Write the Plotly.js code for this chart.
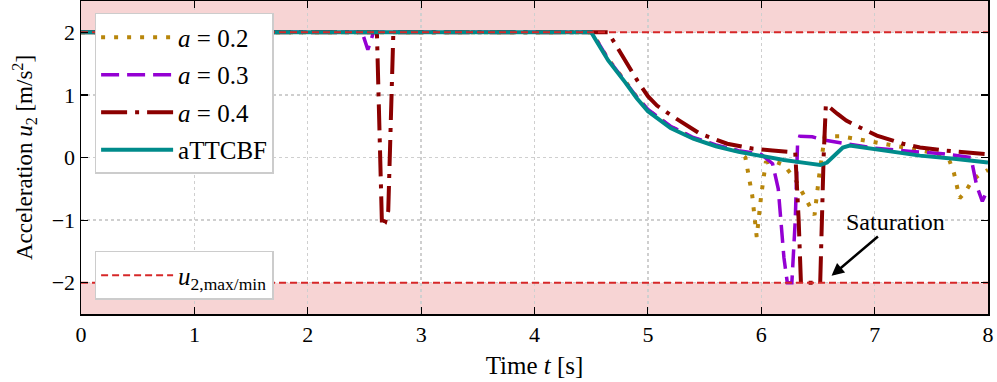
<!DOCTYPE html>
<html>
<head>
<meta charset="utf-8">
<script src="https://cdn.plot.ly/plotly-3.0.1.min.js"></script>
<style>
  html, body { margin: 0; padding: 0; background: #fff; }
  #myDiv { width: 997px; height: 382px; }
</style>
</head>
<body>
<div id="myDiv"></div>
<script>
// a = 0.2
const tA2 = [0, 4.5, 4.55, 4.65, 4.8, 4.9, 5.0, 5.1, 5.2, 5.4, 5.6, 5.8, 5.86, 5.92, 5.96, 6.0, 6.04, 6.1, 6.2, 6.3, 6.4, 6.47, 6.51, 6.56, 6.7, 6.9, 7.2, 7.5, 7.66, 7.7, 7.75, 7.8, 7.86, 7.92, 8.0];
const uA2 = [2, 2, 1.87, 1.57, 1.22, 0.97, 0.76, 0.62, 0.49, 0.31, 0.19, 0.1, 0.0, -0.6, -1.27, -0.6, -0.08, -0.05, -0.12, -0.35, -0.68, -0.92, -0.3, 0.34, 0.34, 0.27, 0.18, 0.08, -0.05, -0.25, -0.65, -0.55, -0.37, -0.28, -0.2];

// a = 0.3
const tA3 = [0, 2.48, 2.53, 2.58, 4.5, 4.55, 4.65, 4.8, 4.9, 5.0, 5.1, 5.2, 5.4, 5.6, 5.8, 6.0, 6.1, 6.15, 6.2, 6.23, 6.27, 6.3, 6.32, 6.34, 6.45, 6.55, 6.75, 7.0, 7.3, 7.6, 7.85, 7.9, 7.95, 8.0];
const uA3 = [2, 2, 1.72, 2, 2, 1.87, 1.57, 1.22, 0.97, 0.77, 0.63, 0.5, 0.32, 0.2, 0.11, 0.05, -0.1, -0.5, -1.6, -2.0, -2.0, -1.0, 0.2, 0.34, 0.33, 0.28, 0.22, 0.15, 0.1, 0.06, 0.0, -0.45, -0.7, -0.5];

// a = 0.4
const tA4 = [0, 2.61, 2.655, 2.68, 2.71, 2.755, 4.65, 4.74, 4.82, 4.91, 5.0, 5.08, 5.25, 5.46, 5.7, 5.93, 6.1, 6.3, 6.33, 6.35, 6.47, 6.52, 6.55, 6.57, 6.67, 6.75, 6.87, 7.02, 7.25, 7.4, 7.63, 7.8, 8.0];
const uA4 = [2, 2, -1.1, -1.05, -0.85, 2, 2, 1.73, 1.48, 1.22, 0.98, 0.83, 0.62, 0.38, 0.22, 0.14, 0.11, 0.08, -1.0, -2.0, -2.0, -2.0, 0.0, 0.85, 0.7, 0.59, 0.48, 0.35, 0.22, 0.16, 0.11, 0.08, 0.05];

// aTTCBF
const tTTC = [0, 4.5, 4.55, 4.65, 4.8, 4.9, 5.0, 5.1, 5.2, 5.4, 5.6, 5.8, 6.0, 6.2, 6.4, 6.52, 6.58, 6.65, 6.72, 6.78, 6.9, 7.1, 7.4, 7.7, 8.0];
const uTTC = [2, 2, 1.85, 1.55, 1.2, 0.95, 0.74, 0.6, 0.47, 0.3, 0.18, 0.09, 0.02, -0.04, -0.09, -0.12, -0.08, 0.05, 0.16, 0.19, 0.16, 0.11, 0.03, -0.02, -0.08];

// limits
const uMax = 2;
const uMin = -2;
const tStart = 0;
const tEnd = 8;

const serif = "Liberation Serif, DejaVu Serif, serif";

const traces = [
    {
        x: tA2, y: uA2, mode: "lines", name: "<i>a</i> = 0.2",
        line: { color: "#b8860b", width: 4, dash: "4px,9px" },
        legend: "legend", legendgroup: "a2",
    },
    {
        x: tA3, y: uA3, mode: "lines", name: "<i>a</i> = 0.3",
        line: { color: "#9400d3", width: 3.5, dash: "18px,8px" },
        legend: "legend", legendgroup: "a3",
    },
    {
        x: tA4, y: uA4, mode: "lines", name: "<i>a</i> = 0.4",
        line: { color: "#8b0000", width: 4, dash: "26px,8px,4px,8px" },
        legend: "legend", legendgroup: "a4",
    },
    {
        x: tTTC, y: uTTC, mode: "lines", name: "aTTCBF",
        line: { color: "#008b8b", width: 4 },
        legend: "legend", legendgroup: "ttc",
    },
    {
        x: [tStart, tEnd, null, tStart, tEnd],
        y: [uMax, uMax, null, uMin, uMin],
        mode: "lines", name: "<i>u</i><sub>2,max/min</sub>",
        line: { color: "#d62728", width: 2, dash: "7px,4px" },
        legend: "legend2",
    },
];

const axisCommon = {
    showline: true, linecolor: "#000", linewidth: 1.5, mirror: "ticks",
    ticks: "inside", ticklen: 7, tickwidth: 1.2, tickcolor: "#000",
    showgrid: true, gridcolor: "#cfcfcf", gridwidth: 1.3, griddash: "dot",
    zeroline: false,
    tickfont: { family: serif, size: 22, color: "#000" },
};

const layout = {
    width: 997, height: 382,
    margin: { l: 81, r: 9, t: 1, b: 68 },
    paper_bgcolor: "#fff", plot_bgcolor: "#fff",
    font: { family: serif, size: 22, color: "#000" },
    xaxis: Object.assign({}, axisCommon, {
        range: [tStart, tEnd], dtick: 1,
        title: { text: "Time <i>t</i> [s]", font: { family: serif, size: 25 }, standoff: 10 },
    }),
    yaxis: Object.assign({}, axisCommon, {
        range: [-2.5, 2.5], dtick: 1,
        title: { text: "Acceleration <i>u</i><sub>2</sub> [m/s<sup>2</sup>]", font: { family: serif, size: 23 }, standoff: 12 },
    }),
    shapes: [
        { type: "rect", xref: "x", yref: "y", x0: tStart, x1: tEnd, y0: uMax, y1: 2.5,
          fillcolor: "rgba(214,39,40,0.2)", line: { width: 0 }, layer: "below" },
        { type: "rect", xref: "x", yref: "y", x0: tStart, x1: tEnd, y0: -2.5, y1: uMin,
          fillcolor: "rgba(214,39,40,0.2)", line: { width: 0 }, layer: "below" },
        { type: "line", xref: "x", yref: "y", x0: tStart, x1: tEnd, y0: 0, y1: 0,
          line: { color: "#000", width: 1, dash: "dot" }, layer: "below" },
    ],
    annotations: [
        {
            x: 6.62, y: -1.89, xref: "x", yref: "y",
            ax: 7.18, ay: -1.03, axref: "x", ayref: "y",
            text: "Saturation", showarrow: true,
            arrowhead: 2, arrowsize: 1, arrowwidth: 2.5, arrowcolor: "#000",
            font: { family: serif, size: 24, color: "#000" },
        },
    ],
    legend: {
        x: 0.015, y: 0.962, xanchor: "left", yanchor: "top",
        bgcolor: "#fff", bordercolor: "#cccccc", borderwidth: 1.5,
        font: { family: serif, size: 25 }, tracegroupgap: 2, itemwidth: 72,
    },
    legend2: {
        x: 0.015, y: 0.045, xanchor: "left", yanchor: "bottom",
        bgcolor: "#fff", bordercolor: "#cccccc", borderwidth: 1.5,
        font: { family: serif, size: 25 }, itemwidth: 72,
    },
    showlegend: true,
};

Plotly.newPlot("myDiv", traces, layout, { displayModeBar: false, staticPlot: true });
</script>
</body>
</html>
